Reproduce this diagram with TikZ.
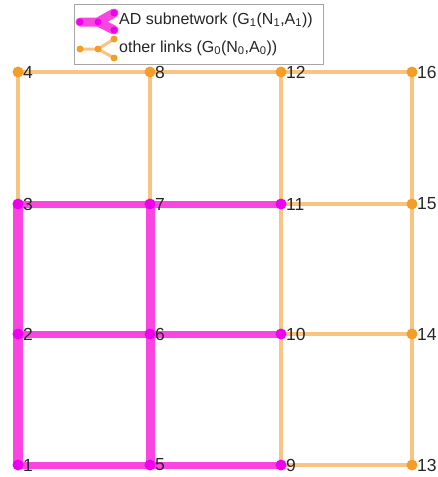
\documentclass[tikz,border=0pt]{standalone}
\usepackage{fontspec}
\setmainfont{Liberation Sans}
\definecolor{mline}{RGB}{250,70,225}
\definecolor{mdotc}{RGB}{238,0,238}
\definecolor{oline}{RGB}{249,196,130}
\definecolor{odotc}{RGB}{244,158,40}
\begin{document}
\begin{tikzpicture}[x=1pt,y=-1pt,
  oedge/.style={draw=oline, line width=4pt},
  medge/.style={draw=mline, line width=7pt},
  mdot/.style={circle, fill=mdotc, inner sep=0pt, minimum size=11pt},
  odot/.style={circle, fill=odotc, inner sep=0pt, minimum size=11pt},
  lab/.style={font=\fontsize{17.5}{17.5}\selectfont, text=black!85, inner sep=0pt, anchor=west, xshift=5pt},
  legtext/.style={font=\fontsize{16}{16}\selectfont, text=black!85, inner sep=0pt, anchor=west}
]
\useasboundingbox (0,0) rectangle (438,477);
% nodes
\foreach \n/\x/\y in {1/18/465, 2/18/334, 3/18/204, 4/18/72,
  5/150/465, 6/150/334, 7/150/204, 8/150/72,
  9/281/465, 10/281/334, 11/281/204, 12/281/72,
  13/412/465, 14/412/334, 15/412/204, 16/412/72}
  \coordinate (n\n) at (\x,\y);
% orange edges
\foreach \a/\b in {4/8, 8/12, 12/16, 4/3, 8/7, 12/11, 16/15, 11/15, 11/10, 15/14, 10/14, 10/9, 14/13, 9/13}
  \draw[oedge] (n\a) -- (n\b);
% magenta edges
\draw[medge, line width=10pt] (n1) -- (n2) -- (n3);
\draw[medge, line width=9pt] (n5) -- (n6) -- (n7);
\foreach \a/\b in {1/5, 5/9, 2/6, 6/10, 3/7, 7/11}
  \draw[medge] (n\a) -- (n\b);
% dots
\foreach \n in {1,2,3,5,6,7,9,10,11}
  \node[mdot] (d\n) at (n\n) {};
\foreach \n in {4,8,12,13,14,15,16}
  \node[odot] (d\n) at (n\n) {};
% labels
\foreach \n in {1,...,16}
  \node[lab] (l\n) at (n\n) {\n};
% legend
\node[draw=black!35, fill=white, line width=0.8pt, minimum width=249pt, minimum height=60pt, inner sep=0pt, anchor=north west] (leg) at (74,4) {};
\coordinate (ma) at (80,22);
\coordinate (mb) at (98,22);
\coordinate (mc) at (114,13);
\coordinate (md) at (114,30);
\draw[medge, line width=9pt, line cap=round] (ma) -- (mb) -- (mc);
\draw[medge, line width=9pt, line cap=round] (mb) -- (md);
\foreach \p in {ma,mb,mc,md} \node[mdot, minimum size=7pt] at (\p) {};
\coordinate (oa) at (80,49);
\coordinate (ob) at (98,49);
\coordinate (oc) at (114,39);
\coordinate (od) at (114,58);
\draw[oedge, line width=3pt] (oa) -- (ob) -- (oc);
\draw[oedge, line width=3pt] (ob) -- (od);
\foreach \p in {oa,ob,oc,od} \node[odot, minimum size=7pt] at (\p) {};
\node[legtext] (t1) at (119,20) {AD subnetwork (G\textsubscript{1}(N\textsubscript{1},A\textsubscript{1}))};
\node[legtext] (t0) at (119,48) {other links (G\textsubscript{0}(N\textsubscript{0},A\textsubscript{0}))};
\end{tikzpicture}
\end{document}
